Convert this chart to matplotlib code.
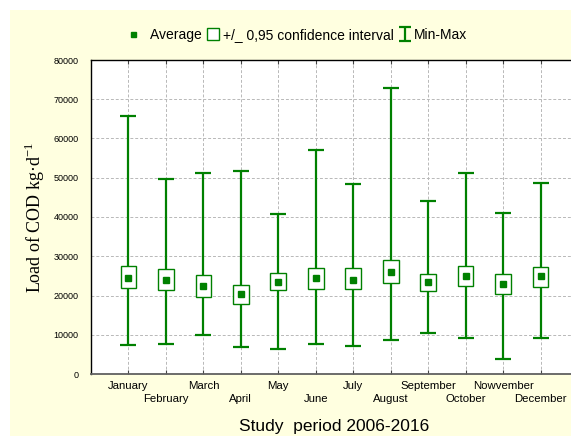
import matplotlib
matplotlib.use("Agg")
import matplotlib.pyplot as plt
import numpy as np
from matplotlib.lines import Line2D
from matplotlib.patches import Rectangle

# Данные: нагрузка по ХПК по месяцам, 2006-2016
months = ["January", "February", "March", "April", "May", "June",
          "July", "August", "September", "October", "Nowvember", "December"]
means = [24400, 23900, 22400, 20400, 23500, 24400,
         24000, 26000, 23500, 25000, 23000, 25000]
ci_low = [21800, 21300, 19600, 17900, 21500, 21600,
          21600, 23100, 21100, 22300, 20500, 22200]
ci_high = [27500, 26800, 25200, 22600, 25700, 27000,
           26900, 29100, 25400, 27500, 25500, 27200]
mins = [7400, 7700, 9900, 6900, 6300, 7700,
        7100, 8600, 10400, 9200, 3700, 9200]
maxs = [65700, 49800, 51200, 51700, 40800, 57000,
        48300, 72900, 44000, 51300, 41100, 48700]
yticks = [0, 10000, 20000, 30000, 40000, 50000, 60000, 70000, 80000]

GREEN = "#008000"

plt.rcParams["font.family"] = ["Liberation Sans", "DejaVu Sans"]
plt.rcParams["mathtext.fontset"] = "custom"
plt.rcParams["mathtext.rm"] = "Liberation Serif"

fig = plt.figure(figsize=(5.71, 4.36), dpi=100)
fig.patch.set_facecolor("white")
# жёлтая подложка, как в исходнике (белая полоса слева и сверху)
fig.patches.append(Rectangle((10 / 571, 0), 1, 1 - 10 / 436, transform=fig.transFigure,
                             facecolor="#ffffe0", edgecolor="none", zorder=-10))

ax = fig.add_axes([91 / 571, 62 / 436, 487 / 571, 314 / 436])
ax.set_facecolor("white")

x = np.arange(1, len(months) + 1)
means_a = np.array(means)
lo_err = means_a - np.array(mins)
hi_err = np.array(maxs) - means_a

ax.errorbar(x, means_a, yerr=[lo_err, hi_err], fmt="none", ecolor=GREEN,
            elinewidth=1.6, capsize=6, capthick=1.6, zorder=3)
ax.bar(x, np.array(ci_high) - np.array(ci_low), bottom=ci_low, width=0.42,
       facecolor="white", edgecolor=GREEN, linewidth=1.0, zorder=4)
ax.plot(x, means_a, linestyle="none", marker="s", markersize=3.8,
        color=GREEN, zorder=5)

ax.set_xlim(0, 13)
ax.set_ylim(0, 80000)
ax.set_yticks(yticks)
ax.set_yticklabels([str(v) for v in yticks], fontsize=6.5)
ax.set_xticks(x)
ax.set_xticklabels(months, fontsize=8.2)
ax.tick_params(axis="x", direction="in", length=3, pad=5, top=True, color="#444444")
ax.tick_params(axis="y", direction="in", length=0, pad=9)
# подписи месяцев в два ряда
for i, tick in enumerate(ax.xaxis.get_major_ticks()):
    if i % 2 == 1:
        tick.set_pad(14.4)

ax.grid(True, linestyle=(0, (3, 2)), color="#b8b8b8", linewidth=0.7)
ax.set_axisbelow(True)

for side in ["left", "top"]:
    ax.spines[side].set_color("black")
    ax.spines[side].set_linewidth(1.0)
ax.spines["bottom"].set_color("#606060")
ax.spines["bottom"].set_linewidth(1.3)

ax.set_xlabel("Study  period 2006-2016", fontsize=12.5, labelpad=11)
ax.set_ylabel(r"Load of COD kg·d$^{\mathrm{-1}}$", family=["Liberation Serif"],
              fontsize=13)
ax.yaxis.set_label_coords(-0.09, 0.5)

# Легенда
eb = ax.errorbar([np.nan], [np.nan], yerr=[[1], [1]], fmt="none", ecolor=GREEN,
                 elinewidth=1.6, capsize=4, capthick=1.6)
ax.set_xlim(0, 13)
ax.set_ylim(0, 80000)
h_mean = Line2D([], [], linestyle="none", marker="s", markersize=3.6, color=GREEN)
h_ci = Line2D([], [], linestyle="none", marker="s", markersize=8,
              markerfacecolor="white", markeredgecolor=GREEN, markeredgewidth=1.0)
fig.legend([h_mean, h_ci, eb],
           ["  Average", "+/_ 0,95 confidence interval", "Min-Max"],
           loc="center", bbox_to_anchor=(297 / 571, 1 - 35 / 436), ncol=3,
           frameon=False, fontsize=10, handlelength=1.0, handleheight=0.6,
           handletextpad=0.2, columnspacing=0.3, borderpad=0)

fig.savefig("out.png", dpi=100)
